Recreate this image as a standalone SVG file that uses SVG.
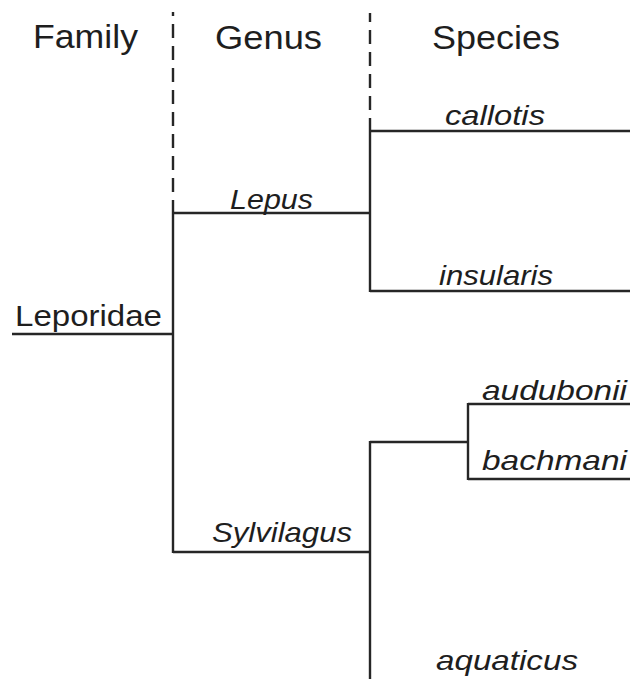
<svg xmlns="http://www.w3.org/2000/svg" width="630" height="679" viewBox="0 0 630 679">
  <style>
    .hdr { font-family: "Liberation Sans", Arial, sans-serif; font-size: 33px; fill: #1e1e1e; }
    .fam { font-family: "Liberation Sans", Arial, sans-serif; font-size: 29px; fill: #1e1e1e; }
    .tax { font-family: "Liberation Sans", Arial, sans-serif; font-size: 28px; font-style: italic; fill: #1e1e1e; }
    .ln { stroke: #262626; stroke-width: 2.4; fill: none; }
    .dash { stroke: #262626; stroke-width: 2.4; fill: none; stroke-dasharray: 14 8; }
  </style>
  <rect width="630" height="679" fill="#ffffff"/>

  <!-- rank headers -->
  <g id="header-family"><text class="hdr" x="33" y="48" textLength="105" lengthAdjust="spacingAndGlyphs">Family</text></g>
  <g id="header-genus"><text class="hdr" x="215" y="49" textLength="107" lengthAdjust="spacingAndGlyphs">Genus</text></g>
  <g id="header-species"><text class="hdr" x="432" y="49" textLength="128" lengthAdjust="spacingAndGlyphs">Species</text></g>

  <!-- tree branches -->
  <g id="connectors">
    <!-- column separators, continuing solid into the branch stems -->
    <line class="dash" x1="173" y1="12" x2="173" y2="193" stroke-dashoffset="10"/>
    <line class="dash" x1="370" y1="13" x2="370" y2="111" stroke-dashoffset="5"/>
    <!-- family -> genera -->
    <line class="ln" x1="12" y1="334" x2="173" y2="334"/>
    <line class="ln" x1="173" y1="200" x2="173" y2="553"/>
    <line class="ln" x1="173" y1="213" x2="370" y2="213"/>
    <line class="ln" x1="173" y1="552" x2="370" y2="552"/>
    <!-- Lepus -> species -->
    <line class="ln" x1="370" y1="118" x2="370" y2="292"/>
    <line class="ln" x1="370" y1="131" x2="630" y2="131"/>
    <line class="ln" x1="370" y1="291" x2="630" y2="291"/>
    <!-- Sylvilagus -> species -->
    <line class="ln" x1="370" y1="441" x2="370" y2="679"/>
    <line class="ln" x1="370" y1="442" x2="468" y2="442"/>
    <line class="ln" x1="468" y1="403" x2="468" y2="480"/>
    <line class="ln" x1="468" y1="404" x2="630" y2="404"/>
    <line class="ln" x1="468" y1="479" x2="630" y2="479"/>
  </g>

  <!-- taxa -->
  <g id="node-leporidae"><text class="fam" x="15" y="326" textLength="147" lengthAdjust="spacingAndGlyphs">Leporidae</text></g>
  <g id="node-lepus"><text class="tax" x="230" y="209" textLength="83" lengthAdjust="spacingAndGlyphs">Lepus</text></g>
  <g id="node-sylvilagus"><text class="tax" x="212" y="542" textLength="140" lengthAdjust="spacingAndGlyphs">Sylvilagus</text></g>
  <g id="node-callotis"><text class="tax" x="445" y="125" textLength="100" lengthAdjust="spacingAndGlyphs">callotis</text></g>
  <g id="node-insularis"><text class="tax" x="439" y="285" textLength="114" lengthAdjust="spacingAndGlyphs">insularis</text></g>
  <g id="node-audubonii"><text class="tax" x="482" y="400" textLength="145" lengthAdjust="spacingAndGlyphs">audubonii</text></g>
  <g id="node-bachmani"><text class="tax" x="482" y="470" textLength="145" lengthAdjust="spacingAndGlyphs">bachmani</text></g>
  <g id="node-aquaticus"><text class="tax" x="436" y="670" textLength="142" lengthAdjust="spacingAndGlyphs">aquaticus</text></g>
</svg>
